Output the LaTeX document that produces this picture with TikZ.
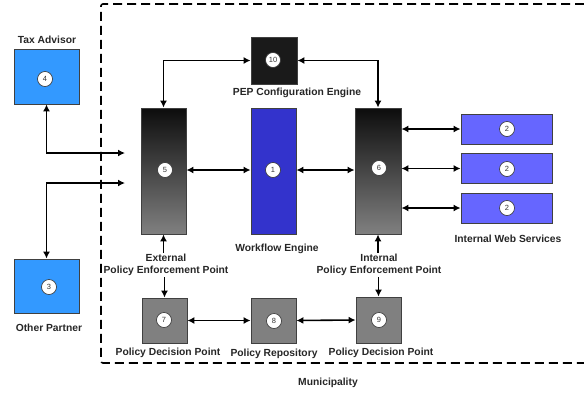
\documentclass[tikz,border=0pt]{standalone}
\usepackage{fontspec}
\setmainfont{Liberation Sans}
\usepackage{xcolor}
\usetikzlibrary{arrows.meta}

\definecolor{socio}{HTML}{3399FF}
\definecolor{motor}{HTML}{3333CC}
\definecolor{servicio}{HTML}{6666FF}
\definecolor{gris}{HTML}{808080}
\definecolor{negro}{HTML}{1A1A1A}

\begin{document}
\begin{tikzpicture}[x=1pt, y=-1pt,
  every node/.style={font=\bfseries\fontsize{10.3}{12.2}\selectfont, text=black!85},
  caja/.style={draw=black!75, line width=0.8pt, inner sep=0pt},
  num/.style={circle, draw=black!80, fill=white, line width=0.6pt, minimum size=15pt, inner sep=0pt,
    font=\fontsize{7.5}{8}\selectfont, text=black!80},
  flecha/.style={line width=1.6pt, {Latex[length=7pt,width=7pt]}-{Latex[length=7pt,width=7pt]}},
  simple/.style={line width=1.6pt, -{Latex[length=7pt,width=7pt]}},
  ]
  \useasboundingbox (0,0) rectangle (584,394);

  % Municipio
  \draw[line width=1.6pt, dash pattern=on 9pt off 5pt, rounded corners=2pt]
    (584,4) -| (101,363) -- (584,363);
  \node (lmun) at (328,383) {Municipality};

  % Socios externos
  \node[caja, fill=socio, minimum width=65pt, minimum height=55pt] (tax) at (46.5,76.5) {};
  \node[caja, fill=socio, minimum width=65pt, minimum height=54pt] (other) at (46.5,286) {};
  \node (ltax) at (47,40) {Tax Advisor};
  \node (lother) at (49,328) {Other Partner};

  % Columnas centrales
  \node[caja, top color=black!95, bottom color=gris, minimum width=45pt, minimum height=126pt] (pepext) at (163.5,171) {};
  \node[caja, fill=motor, minimum width=45pt, minimum height=126pt] (wfe) at (273.5,171) {};
  \node[caja, top color=black!95, bottom color=gris, minimum width=46pt, minimum height=126pt] (pepint) at (378,171) {};
  \node[caja, fill=negro, minimum width=46pt, minimum height=47pt] (conf) at (274,60.5) {};

  \node (lconf) at (297,93) {PEP Configuration Engine};
  \node (lwfe) at (277,249) {Workflow Engine};
  \node[align=center, inner sep=1pt] (lext) at (166,265) {External\\Policy Enforcement Point};
  \node[align=center, inner sep=1pt] (lint) at (379,265) {Internal\\Policy Enforcement Point};

  % Servicios web internos
  \node[caja, fill=servicio, minimum width=91pt, minimum height=30pt] (ws1) at (506.5,129) {};
  \node[caja, fill=servicio, minimum width=91pt, minimum height=30pt] (ws2) at (506.5,168.5) {};
  \node[caja, fill=servicio, minimum width=91pt, minimum height=30pt] (ws3) at (506.5,208) {};
  \node (lws) at (508,239) {Internal Web Services};

  % Politicas
  \node[caja, fill=gris, minimum width=45pt, minimum height=45pt] (pdpext) at (164.5,320.5) {};
  \node[caja, fill=gris, minimum width=45pt, minimum height=45pt] (rep) at (273.5,320.5) {};
  \node[caja, fill=gris, minimum width=45pt, minimum height=46pt] (pdpint) at (378.5,320) {};
  \node (lpdpext) at (168,353) {Policy Decision Point};
  \node (lrep) at (274,354) {Policy Repository};
  \node (lpdpint) at (381,353) {Policy Decision Point};

  % Numeros
  \node[num] (c4) at (45,79) {4};
  \node[num] (c3) at (49,287) {3};
  \node[num] (c5) at (165,170) {5};
  \node[num] (c1) at (273,170) {1};
  \node[num] (c6) at (379,168) {6};
  \node[num] (c10) at (273,60) {10};
  \node[num] (c2a) at (507,129) {2};
  \node[num] (c2b) at (507,169) {2};
  \node[num] (c2c) at (507,208) {2};
  \node[num] (c7) at (164,320) {7};
  \node[num] (c8) at (274,321) {8};
  \node[num] (c9) at (379,320) {9};

  % Aristas
  \coordinate (e1) at (125,153);
  \coordinate (e2) at (125,183);
  \draw[flecha] (tax.south) |- (e1);
  \draw[flecha] (other.north) |- (e2);
  \draw[flecha] (conf.west) -| (pepext.north);
  \draw[flecha] (conf.east) -| (pepint.north);
  \draw[flecha] (pepext.east |- c5) -- (wfe.west |- c5);
  \draw[flecha] (wfe.east |- c5) -- (pepint.west |- c5);
  \draw[flecha] (pepint.east |- ws1) -- (ws1.west);
  \draw[flecha] (pepint.east |- ws2) -- (ws2.west);
  \draw[flecha] (pepint.east |- ws3) -- (ws3.west);
  \draw[simple] (lext.north -| pepext) -- (pepext.south);
  \draw[simple] (lext.south -| pdpext) -- (pdpext.north);
  \draw[simple] (lint.north -| pepint) -- (pepint.south);
  \draw[simple] (lint.south -| pdpint) -- (pdpint.north);
  \draw[flecha] (pdpext.east) -- (rep.west);
  \draw[flecha] (rep.east) -- (pdpint.west);
\end{tikzpicture}
\end{document}
